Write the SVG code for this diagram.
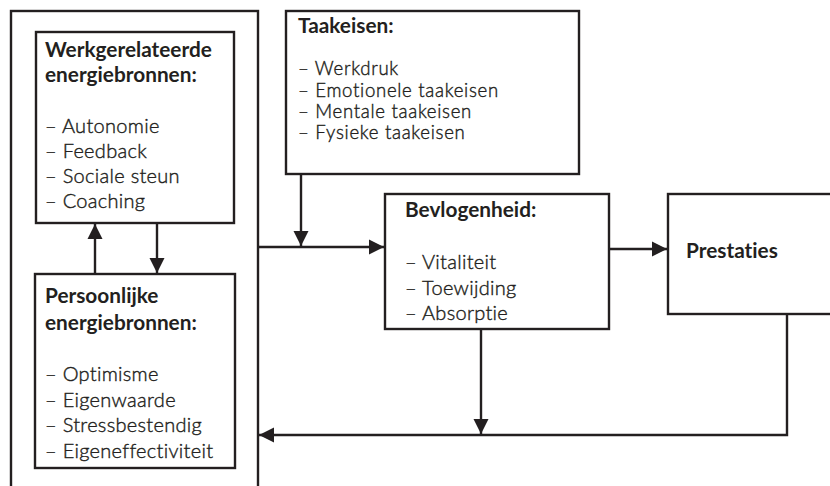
<svg xmlns="http://www.w3.org/2000/svg" width="830" height="486" viewBox="0 0 830 486">
<defs>
<marker id="ah" markerUnits="userSpaceOnUse" markerWidth="18" markerHeight="18" refX="16" refY="9" orient="auto">
<path d="M1,1.5 L16,9 L1,16.5 z" fill="#231f20"/>
</marker>
<style>
.box{fill:#fff;stroke:#231f20;stroke-width:2.4}
.ln{fill:none;stroke:#231f20;stroke-width:2.4}
text{font-variant-ligatures:none}
.b{font-family:Lato,"Open Sans","Liberation Sans",sans-serif;font-weight:700;fill:#231f20;font-size:20.8px}
.t{font-family:Lato,"Open Sans","Liberation Sans",sans-serif;font-weight:300;fill:#231f20;stroke:#231f20;stroke-width:0.4px;font-size:20px;letter-spacing:0.3px}
.s{font-size:18.6px;letter-spacing:0.7px}
</style>
</defs>
<rect width="830" height="486" fill="#fff"/>
<g id="outer"><rect class="box" x="11" y="11" width="247" height="500"/></g>
<g id="werk">
<rect class="box" x="36" y="32" width="198" height="191"/>
<text class="b" x="45" y="57">Werkgerelateerde</text>
<text class="b" x="45" y="82">energiebronnen:</text>
<text class="t" x="45" y="133">– Autonomie</text>
<text class="t" x="45" y="158">– Feedback</text>
<text class="t" x="45" y="183">– Sociale steun</text>
<text class="t" x="45" y="208">– Coaching</text>
</g>
<g id="pers">
<rect class="box" x="35" y="274" width="200" height="194"/>
<text class="b" x="45" y="303">Persoonlijke</text>
<text class="b" x="45" y="330">energiebronnen:</text>
<text class="t" x="45" y="381">– Optimisme</text>
<text class="t" x="45" y="407">– Eigenwaarde</text>
<text class="t" x="45" y="432">– Stressbestendig</text>
<text class="t" x="45" y="458">– Eigeneffectiviteit</text>
</g>
<g id="taak">
<rect class="box" x="286" y="11" width="293" height="163"/>
<text class="b" x="298" y="33">Taakeisen:</text>
<text class="t s" x="298" y="75">– Werkdruk</text>
<text class="t s" x="298" y="97">– Emotionele taakeisen</text>
<text class="t s" x="298" y="118">– Mentale taakeisen</text>
<text class="t s" x="298" y="139">– Fysieke taakeisen</text>
</g>
<g id="bevl">
<rect class="box" x="385" y="194" width="224" height="135"/>
<text class="b" x="405" y="217">Bevlogenheid:</text>
<text class="t" x="405" y="269">– Vitaliteit</text>
<text class="t" x="405" y="295">– Toewijding</text>
<text class="t" x="405" y="320">– Absorptie</text>
</g>
<g id="prest">
<rect class="box" x="668" y="194" width="180" height="120"/>
<text class="b" x="686" y="258">Prestaties</text>
</g>
<g id="connectors">
<path class="ln" d="M95,274 V224" marker-end="url(#ah)"/>
<path class="ln" d="M157,223 V273" marker-end="url(#ah)"/>
<path class="ln" d="M258,247 H384" marker-end="url(#ah)"/>
<path class="ln" d="M301,174 V246" marker-end="url(#ah)"/>
<path class="ln" d="M609,249 H667" marker-end="url(#ah)"/>
<path class="ln" d="M481,329 V434" marker-end="url(#ah)"/>
<path class="ln" d="M787,314 V435 H259" marker-end="url(#ah)"/>
</g>
</svg>
